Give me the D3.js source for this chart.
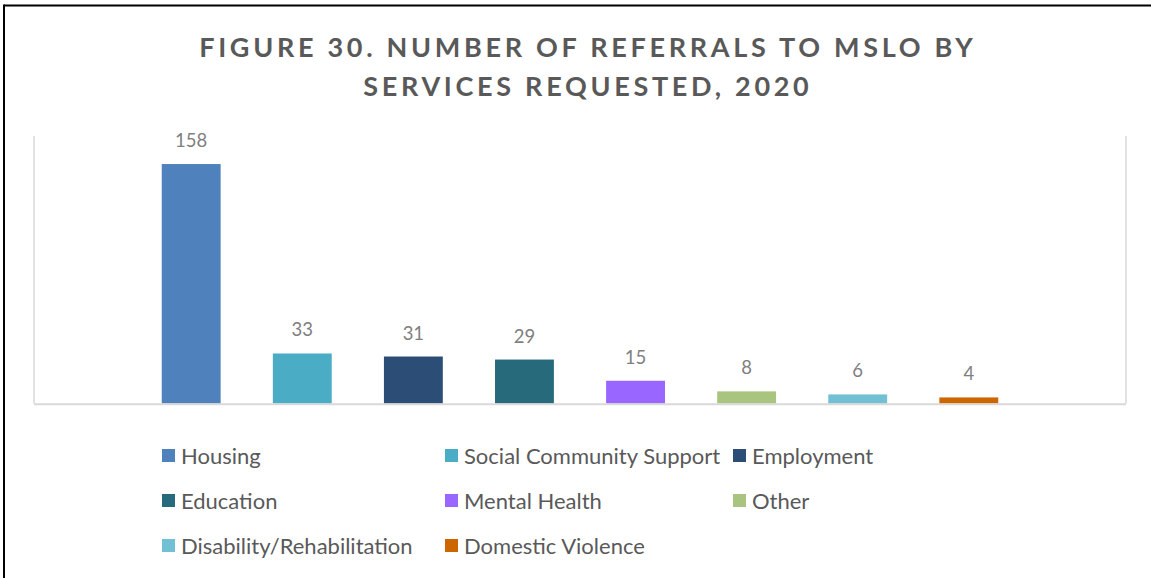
<!DOCTYPE html>
<html>
<head>
<meta charset="utf-8">
<script src="https://cdn.jsdelivr.net/npm/d3@7/dist/d3.min.js"></script>
<style>
  html, body { margin: 0; padding: 0; background: #fff; }
  svg { display: block; }
</style>
</head>
<body>
<svg id="chart" width="1151" height="578"></svg>
<script>
// Referral counts by service requested
const categories = [
  "Housing", "Social Community Support", "Employment", "Education",
  "Mental Health", "Other", "Disability/Rehabilitation", "Domestic Violence"
];
const referrals = [158, 33, 31, 29, 15, 8, 6, 4];
const colors = [
  "#4f81bd", "#4bacc6", "#2c4d75", "#276a7c",
  "#9966ff", "#a9c47f", "#72c0d4", "#cc6600"
];
const titleLines = [
  "FIGURE 30. NUMBER OF REFERRALS TO MSLO BY",
  "SERVICES REQUESTED, 2020"
];

const font = "Lato, 'Open Sans', sans-serif";
const svg = d3.select("#chart");

// Outer frame: top and left edges
svg.append("line").attr("x1", 4).attr("x2", 1151).attr("y1", 5.5).attr("y2", 5.5)
  .attr("stroke", "#000").attr("stroke-width", 2);
svg.append("line").attr("x1", 4).attr("x2", 4).attr("y1", 4.5).attr("y2", 578)
  .attr("stroke", "#000").attr("stroke-width", 2);

// Title
const ls = 3.7;
svg.append("g").selectAll("text").data(titleLines).join("text")
  .attr("x", 586 + ls / 2)
  .attr("y", (d, i) => 57 + i * 39)
  .attr("text-anchor", "middle")
  .attr("font-family", font)
  .attr("font-weight", 700)
  .attr("font-size", 27)
  .attr("letter-spacing", ls)
  .attr("fill", "#595959")
  .text(d => d);

// Plot area
const plot = { left: 34, right: 1126, top: 136, bottom: 403.5 };

const x = d3.scaleBand()
  .domain(categories)
  .range([plot.left, plot.right])
  .paddingInner(0.47)
  .paddingOuter(1.15);

const y = d3.scaleLinear()
  .domain([0, 176.5])
  .range([plot.bottom, plot.top]);

// Plot border (left, right)
const border = svg.append("g").attr("stroke", "#d9d9d9").attr("stroke-width", 1.5).attr("fill", "none");
border.append("line").attr("x1", plot.left).attr("x2", plot.left).attr("y1", plot.top).attr("y2", plot.bottom);
border.append("line").attr("x1", plot.right).attr("x2", plot.right).attr("y1", plot.top).attr("y2", plot.bottom);

// Bars
svg.append("g").selectAll("rect").data(categories).join("rect")
  .attr("x", d => x(d))
  .attr("width", x.bandwidth())
  .attr("y", (d, i) => y(referrals[i]))
  .attr("height", (d, i) => y(0) - y(referrals[i]))
  .attr("fill", (d, i) => colors[i]);

// Category axis line
svg.append("line")
  .attr("x1", plot.left).attr("x2", plot.right)
  .attr("y1", y(0) + 0.75).attr("y2", y(0) + 0.75)
  .attr("stroke", "#d9d9d9").attr("stroke-width", 1.8);

// Value labels
svg.append("g").selectAll("text").data(categories).join("text")
  .attr("x", d => x(d) + x.bandwidth() / 2)
  .attr("y", (d, i) => y(referrals[i]) - 17)
  .attr("text-anchor", "middle")
  .attr("font-family", font)
  .attr("font-size", 18.5)
  .attr("fill", "#7f7f7f")
  .text((d, i) => referrals[i]);

// Legend: three columns, three rows
const legendCols = [162, 445, 733];
const legendRows = [456, 501, 546];
const legend = svg.append("g").selectAll("g").data(categories).join("g")
  .attr("transform", (d, i) => `translate(${legendCols[i % 3]},${legendRows[Math.floor(i / 3)]})`);
legend.append("rect")
  .attr("x", 0).attr("y", -7).attr("width", 13).attr("height", 13)
  .attr("fill", (d, i) => colors[i]);
legend.append("text")
  .attr("x", 19).attr("y", 7.5)
  .attr("font-family", font)
  .attr("font-size", 22)
  .attr("fill", "#595959")
  .text(d => d);
</script>
</body>
</html>
